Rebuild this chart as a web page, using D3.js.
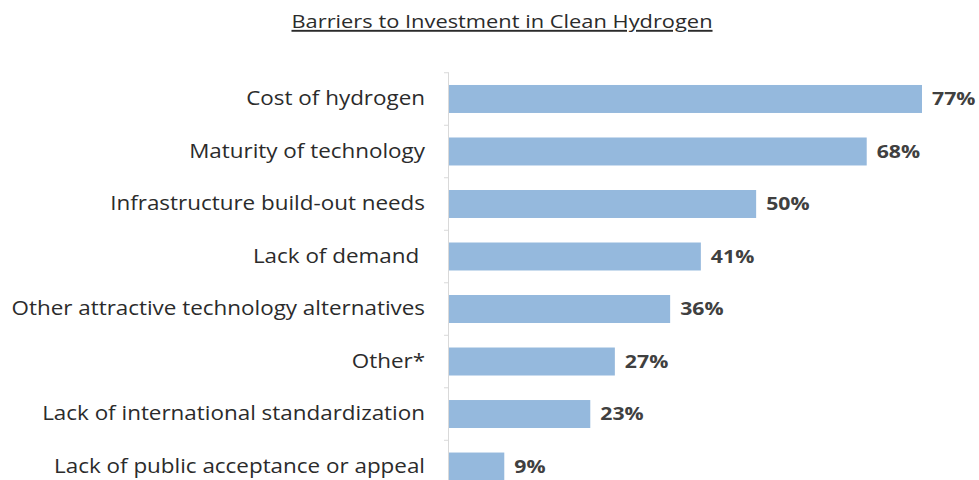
<!DOCTYPE html>
<html>
<head>
<meta charset="utf-8">
<script src="https://cdn.jsdelivr.net/npm/d3@7"></script>
<style>
  body { margin: 0; background: #fff; }
  text { font-family: "Open Sans", sans-serif; }
</style>
</head>
<body>
<div class="canvas"></div>
<script>
var categories = ["Cost of hydrogen", "Maturity of technology", "Infrastructure build-out needs", "Lack of demand ",
  "Other attractive technology alternatives", "Other*", "Lack of international standardization", "Lack of public acceptance or appeal"];
var values = [77, 68, 50, 41, 36, 27, 23, 9];
var title = "Barriers to Investment in Clean Hydrogen";

var width = 979, height = 480;
var stretch = 1.15; // the source picture is a bit wider than tall
var svg = d3.select(".canvas").append("svg").attr("width", width).attr("height", height);

var x0 = 449;
var scaleX = d3.scaleLinear().domain([0, 77]).range([x0, 922]);
var scaleY = d3.scaleBand().domain(categories).range([72.75, 72.75 + 52.5 * categories.length]).paddingInner(0.467).paddingOuter(0.233);

// title
svg.append("text")
  .attr("transform", "translate(502,28) scale(" + stretch + ",1)")
  .attr("text-anchor", "middle")
  .attr("font-size", "19px")
  .attr("fill", "#2b2b2b")
  .attr("text-decoration", "underline")
  .text(title);

var data = categories.map(function(c, i) { return {cat: c, val: values[i]}; });

svg.append("g")
  .selectAll("rect")
  .data(data)
  .enter()
  .append("rect")
  .attr("x", x0)
  .attr("y", function(d) { return scaleY(d.cat); })
  .attr("width", function(d) { return scaleX(d.val) - x0; })
  .attr("height", scaleY.bandwidth())
  .attr("fill", "#95b9dd");

// value labels
svg.append("g")
  .selectAll("text")
  .data(data)
  .enter()
  .append("text")
  .attr("transform", function(d) {
    return "translate(" + (scaleX(d.val) + 10) + "," + (scaleY(d.cat) + scaleY.bandwidth() / 2) + ") scale(1.18,1)";
  })
  .attr("dy", "0.35em")
  .attr("font-size", "18px")
  .attr("font-weight", "bold")
  .attr("fill", "#404040")
  .text(function(d) { return d.val + "%"; });

// y axis labels
var yAxis = d3.axisLeft(scaleY).tickSize(0).tickPadding(0);
var gy = svg.append("g")
  .attr("class", "y axis")
  .attr("transform", "translate(" + (x0 - 24) + ",0)")
  .call(yAxis);
gy.select(".domain").remove();
gy.selectAll("text")
  .attr("x", 0)
  .attr("transform", "scale(" + stretch + ",1)")
  .attr("font-size", "19.5px")
  .attr("fill", "#2b2b2b")
  .style("white-space", "pre")
  .style("font-family", "'Open Sans', sans-serif");

var step = scaleY.step();
var bounds = d3.range(categories.length + 1).map(function(i) { return 72.75 + i * step; });
svg.append("line")
  .attr("x1", x0 - 0.5).attr("x2", x0 - 0.5)
  .attr("y1", 72.75).attr("y2", height)
  .attr("stroke", "#d9d9d9").attr("stroke-width", 1);
svg.append("g")
  .selectAll("line")
  .data(bounds)
  .enter()
  .append("line")
  .attr("x1", x0 - 5).attr("x2", x0)
  .attr("y1", function(d) { return d; }).attr("y2", function(d) { return d; })
  .attr("stroke", "#d9d9d9");
</script>
</body>
</html>
